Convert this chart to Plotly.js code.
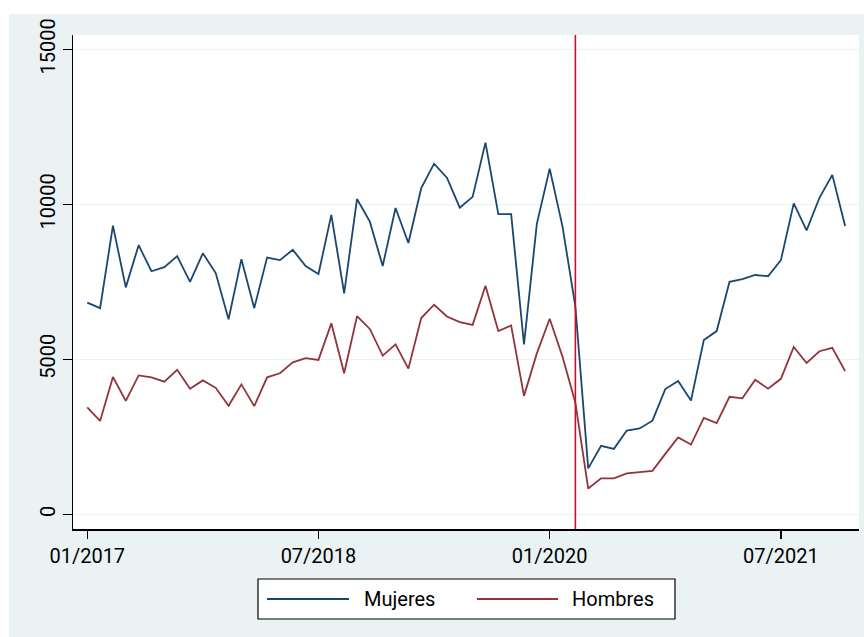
<!DOCTYPE html>
<html>
<head>
<meta charset="utf-8">
<script src="https://cdn.plot.ly/plotly-3.0.1.min.js"></script>
<style>html,body{margin:0;padding:0;background:#fff;}#chart{width:864px;height:637px;}</style>
</head>
<body>
<div id="chart"></div>
<script>
// Monthly categories
const months = [
 "01/2017","02/2017","03/2017","04/2017","05/2017","06/2017","07/2017","08/2017","09/2017","10/2017","11/2017","12/2017",
 "01/2018","02/2018","03/2018","04/2018","05/2018","06/2018","07/2018","08/2018","09/2018","10/2018","11/2018","12/2018",
 "01/2019","02/2019","03/2019","04/2019","05/2019","06/2019","07/2019","08/2019","09/2019","10/2019","11/2019","12/2019",
 "01/2020","02/2020","03/2020","04/2020","05/2020","06/2020","07/2020","08/2020","09/2020","10/2020","11/2020","12/2020",
 "01/2021","02/2021","03/2021","04/2021","05/2021","06/2021","07/2021","08/2021","09/2021","10/2021","11/2021","12/2021"
];
const mujeres = [
 6830,6650,9310,7320,8680,7840,7970,8330,7500,8420,7780,6290,
 8230,6650,8280,8200,8530,8010,7750,9660,7130,10170,9440,8010,
 9880,8750,10520,11310,10860,9890,10240,11990,9680,9680,5480,9370,
 11150,9280,6700,1480,2210,2110,2700,2770,3020,4040,4300,3670,
 5620,5910,7500,7590,7720,7680,8200,10030,9160,10210,10950,9300
];
const hombres = [
 3450,3010,4430,3660,4480,4420,4280,4660,4050,4320,4080,3500,
 4190,3490,4420,4550,4900,5040,4980,6160,4550,6390,5980,5120,
 5480,4700,6330,6760,6380,6200,6110,7370,5910,6090,3820,5190,
 6310,5080,3600,830,1160,1160,1320,1370,1400,1950,2480,2250,
 3110,2940,3790,3740,4340,4050,4370,5400,4880,5260,5370,4620
];
const xTickLabels = ["01/2017","07/2018","01/2020","07/2021"];
const yTicks = [0,5000,10000,15000];
const seriesNames = ["Mujeres","Hombres"];
const eventMonth = "03/2020";

const xIdx = months.map((m,i)=>i);
const FONT = "Roboto, 'Liberation Sans', Arial, sans-serif";
const cBlue = "#1a476f", cRed = "#90353b", bg = "#eaf2f3";

const traces = [
 {x:xIdx, y:mujeres, type:"scatter", mode:"lines", name:seriesNames[0], line:{color:cBlue,width:1.8}, showlegend:false},
 {x:xIdx, y:hombres, type:"scatter", mode:"lines", name:seriesNames[1], line:{color:cRed,width:1.8}, showlegend:false}
];

// plot area px: x 73..859, y 35..529
const W=864,H=637,L=73,R=859,T=35,B=529;
const px=(v)=>(v-L)/(R-L);
const py=(v)=>(B-v)/(B-T);

const layout = {
 width:W, height:H,
 margin:{l:L, r:W-R, t:T, b:H-B, pad:0},
 paper_bgcolor:bg, plot_bgcolor:"#ffffff",
 font:{family:FONT, size:20, color:"#000"},
 showlegend:false,
 xaxis:{
  range:[-1.11,60.08], showgrid:false, zeroline:false,
  tickvals:xTickLabels.map(l=>months.indexOf(l)), ticktext:xTickLabels,
  ticks:"outside", ticklen:8, tickwidth:1.5, tickcolor:"#000",
  showline:true, linecolor:"#000", linewidth:1.5,
  tickfont:{family:FONT,size:20,color:"#000"}
 },
 yaxis:{
  range:[-474,15461], showgrid:true, gridcolor:bg, gridwidth:1.2, zeroline:false,
  tickvals:yTicks, ticktext:yTicks.map(String), tickangle:-90,
  ticks:"outside", ticklen:9, tickwidth:1.5, tickcolor:"#000",
  showline:true, linecolor:"#000", linewidth:1.5,
  tickfont:{family:FONT,size:20,color:"#000"}
 },
 shapes:[
  // white outer margins
  {type:"rect", xref:"paper", yref:"paper", x0:px(0), x1:px(W), y0:py(0), y1:py(14), fillcolor:"#fff", line:{width:0}, layer:"below"},
  {type:"rect", xref:"paper", yref:"paper", x0:px(0), x1:px(9), y0:py(0), y1:py(H), fillcolor:"#fff", line:{width:0}, layer:"below"},
  // event line
  {type:"line", xref:"x", yref:"paper", x0:months.indexOf(eventMonth), x1:months.indexOf(eventMonth), y0:0, y1:1, line:{color:"#c8102e", width:1.6}},
  // legend box
  {type:"rect", xref:"paper", yref:"paper", x0:px(258), x1:px(675), y0:py(579), y1:py(619), fillcolor:"#fff", line:{color:"#000", width:1.2}},
  {type:"line", xref:"paper", yref:"paper", x0:px(267), x1:px(349), y0:py(599), y1:py(599), line:{color:cBlue, width:1.8}},
  {type:"line", xref:"paper", yref:"paper", x0:px(477), x1:px(558), y0:py(599), y1:py(599), line:{color:cRed, width:1.8}}
 ],
 annotations:[
  {xref:"paper", yref:"paper", x:px(362), y:py(599), xanchor:"left", yanchor:"middle", text:seriesNames[0], showarrow:false, font:{family:FONT,size:20,color:"#000"}},
  {xref:"paper", yref:"paper", x:px(570), y:py(599), xanchor:"left", yanchor:"middle", text:seriesNames[1], showarrow:false, font:{family:FONT,size:20,color:"#000"}}
 ]
};
Plotly.newPlot("chart", traces, layout, {displayModeBar:false, staticPlot:true});
</script>
</body>
</html>
